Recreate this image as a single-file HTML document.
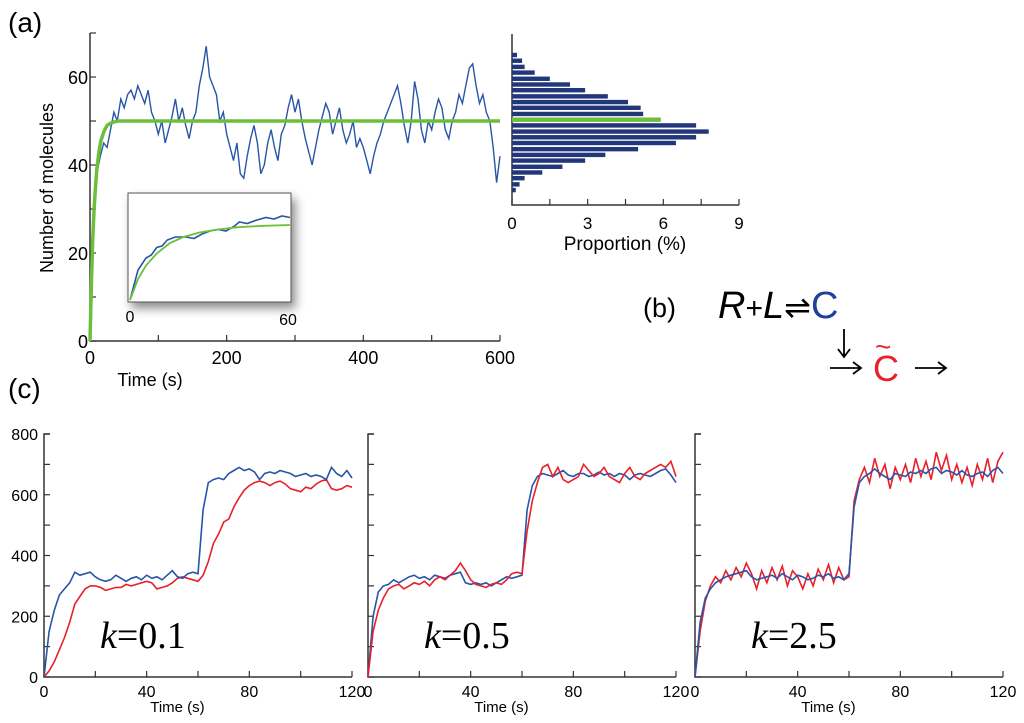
<!DOCTYPE html>
<html><head><meta charset="utf-8"><style>
body{margin:0;background:#fff;width:1024px;height:723px;overflow:hidden}
svg{display:block;font-family:"Liberation Sans",sans-serif}
</style></head><body>
<svg id="fig" width="1024" height="723" viewBox="0 0 1024 723">
<defs><filter id="sh" x="-20%" y="-20%" width="150%" height="160%"><feDropShadow dx="4" dy="6" stdDeviation="5" flood-color="#000" flood-opacity="0.45"/></filter></defs>
<text x="8" y="32" font-size="28">(a)</text>
<text x="8" y="398" font-size="28">(c)</text>
<g>
<text x="643" y="317" font-size="27">(b)</text>
<text x="718" y="318" font-size="38"><tspan font-style="italic">R</tspan><tspan font-size="30">+</tspan><tspan font-style="italic">L</tspan><tspan font-size="32">⇌</tspan><tspan fill="#1f3f9a">C</tspan></text>
<g stroke="#000" stroke-width="1.8" fill="none"><path d="M844,329 V356 M838,349 L844,357 L850,349"/></g>
<g stroke="#000" stroke-width="1.8" fill="none"><path d="M830,368 H860 M853,362 L861,368 L853,374"/></g>
<text x="873" y="381" font-size="36" fill="#e8202a">C</text>
<text x="875" y="356" font-size="28" fill="#e8202a">~</text>
<g stroke="#000" stroke-width="1.8" fill="none"><path d="M915,368 H945 M938,362 L946,368 L938,374"/></g>
</g>
<g id="pa"></g>
<g id="ph"></g>
<g id="pc"></g>
</svg>
<script>
const mainT0=0, mainDt=5;
const mainV=[0,30,38,42,45,44,48,52,50,55,53,56,57,55,58,56,54,57,52,50,47,50,45,48,51,55,50,53,49,46,50,52,58,62,67,60,58,56,50,52,47,44,41,45,38,37,42,46,49,45,38,40,45,48,44,41,47,49,53,56,52,55,50,46,43,40,44,48,51,54,52,47,50,53,48,45,47,50,44,46,44,41,38,42,45,47,50,52,54,56,58,54,49,45,50,59,55,48,45,50,48,52,55,53,48,46,50,52,56,54,58,62,63,58,54,56,52,50,44,36,42];
const fitT=[0,2,4,6,8,10,13,16,20,25,30,40,50,60,600];
const fitV=[0,13,23,30,35,39,43,45.5,47.5,49,49.5,50,50,50,50];
const xTicksA=[0,200,400,600];
const yTicksA=[0,20,40,60];
const insetT=[0,3,6,8,10,12,14,17,21,24,27,30,33,36,39,41,44,47,51,54,57,60];
const insetBlue=[0,20,28,30,35,36,40,42,42,41,44,46,47,46,49,52,51,53,55,54,56,55];
const insetFitT=[0,3,6,10,15,20,26,33,40,50,60];
const insetFitV=[0,14,23,31,38,42,45,47,48.5,49.5,50];
const histBins=[65,63.7,62.3,61,59.6,58.3,57,55.6,54.3,53,51.6,50.3,49,47.6,46.3,45,43.6,42.3,41,39.6,38.3,37,35.6,34.3];
const histPct=[0.2,0.4,0.5,0.9,1.5,2.3,2.9,3.8,4.6,5.1,5.2,5.9,7.3,7.8,7.3,6.5,5.0,3.7,2.9,2.0,1.2,0.5,0.3,0.15];
const histHighlight=11;
const histTicks=[0,3,6,9];
const cT0=0, cDt=2;
const c1Blue=[0,150,220,270,290,310,345,335,340,345,330,320,315,320,335,325,315,325,330,320,335,325,330,320,335,350,330,325,340,345,340,550,640,650,655,650,670,680,690,680,685,675,650,670,675,670,680,675,670,660,665,670,660,665,660,650,690,670,660,680,655];
const c1Red=[0,20,50,90,130,180,240,265,290,300,300,295,285,290,295,295,305,300,305,310,315,310,290,295,300,310,325,330,325,320,315,335,380,440,470,510,520,560,590,615,630,640,645,640,630,640,645,635,620,615,610,625,620,635,645,650,620,615,620,630,625];
const c2Blue=[0,200,280,300,305,320,310,320,330,335,325,330,320,335,330,325,335,340,345,310,305,310,305,310,300,310,320,330,325,330,335,550,630,660,670,665,660,670,680,665,660,670,670,660,665,675,665,670,660,670,665,650,665,670,665,660,670,680,685,665,640];
const c2Red=[0,150,220,260,290,300,305,290,300,310,305,315,300,320,330,320,335,350,375,350,320,305,300,295,305,310,305,320,340,345,340,480,580,640,690,700,660,690,650,640,650,660,700,680,660,670,690,660,650,640,670,690,660,650,670,680,690,700,690,710,660];
const c3Blue=[0,180,260,290,310,320,330,335,340,345,350,330,320,325,330,335,325,340,330,320,335,330,320,325,335,330,340,325,330,320,340,560,640,660,670,685,670,660,650,670,665,660,675,670,680,670,685,690,670,680,675,665,680,665,660,670,675,660,680,690,670];
const c3Red=[0,150,250,300,330,310,350,320,360,330,375,340,290,350,310,360,320,365,300,350,330,290,340,300,355,320,370,310,360,320,330,580,650,690,640,720,660,700,620,690,650,700,640,720,660,710,650,740,680,730,650,700,640,690,630,700,650,720,640,710,740];
const cXTicks=[0,40,80,120];
const cYTicks=[0,200,400,600,800];
const kLabels=["0.1","0.5","2.5"];

const NS="http://www.w3.org/2000/svg";
function mk(p,tag,at){const e=document.createElementNS(NS,tag);for(const k in at)e.setAttribute(k,at[k]);p.appendChild(e);return e;}
function pts(xs,ys,sx,sy){return xs.map((x,i)=>sx(x).toFixed(1)+","+sy(ys[i]).toFixed(1)).join(" ");}
const AX="#333";

const pa=document.getElementById('pa');
const ax=t=>90+t/600*410, ay=v=>341-v*4.4;
let e=mk(pa,'path',{d:`M90,33 V341 H500`,fill:'none',stroke:AX,'stroke-width':1.5});


for(let t=0;t<=600;t+=100){e=mk(pa,'line',{x1:ax(t),x2:ax(t),y1:341,y2:335,stroke:AX,'stroke-width':1.2});}
for(let v=0;v<=70;v+=10){e=mk(pa,'line',{x1:90,x2:96,y1:ay(v),y2:ay(v),stroke:AX,'stroke-width':1.2});}
xTicksA.forEach(t=>{e=mk(pa,'text',{x:ax(t),y:364,'font-size':18,'text-anchor':'middle'});e.textContent=t;});
yTicksA.forEach(v=>{e=mk(pa,'text',{x:88,y:ay(v)+7,'font-size':18,'text-anchor':'end'});e.textContent=v;});
e=mk(pa,'text',{x:150,y:386,'font-size':18,'text-anchor':'middle'});e.textContent='Time (s)';


e=mk(pa,'text',{x:0,y:0,'font-size':18,'text-anchor':'middle',transform:'translate(53,188) rotate(-90)'});e.textContent='Number of molecules';


const mainTs=mainV.map((v,i)=>mainT0+i*mainDt);
e=mk(pa,'polyline',{points:pts(mainTs,mainV,ax,ay),fill:'none',stroke:'#2855a8','stroke-width':1.4});


e=mk(pa,'polyline',{points:pts(fitT,fitV,ax,ay),fill:'none',stroke:'#6cbf3a','stroke-width':3.5});


const ig=mk(pa,'g',{});


e=mk(ig,'rect',{x:128,y:193,width:163,height:109,fill:'#fff',stroke:'#555','stroke-width':1,filter:'url(#sh)'});


const ix=t=>130+t/60*160, iy=v=>300-v*1.5;
e=mk(ig,'polyline',{points:pts(insetT,insetBlue,ix,iy),fill:'none',stroke:'#2855a8','stroke-width':1.6});


e=mk(ig,'polyline',{points:pts(insetFitT,insetFitV,ix,iy),fill:'none',stroke:'#6cbf3a','stroke-width':1.8});


e=mk(ig,'text',{x:130,y:322,'font-size':16,'text-anchor':'middle'});e.textContent='0';


e=mk(ig,'text',{x:288,y:325,'font-size':16,'text-anchor':'middle'});e.textContent='60';



const ph=document.getElementById('ph');
const hx=p=>512+p/9*227;
e=mk(ph,'path',{d:'M512,34 V205 H739',fill:'none',stroke:AX,'stroke-width':1.5});


for(let p=0;p<=9;p+=1.5){e=mk(ph,'line',{x1:hx(p),x2:hx(p),y1:205,y2:199,stroke:AX,'stroke-width':1.2});}
histTicks.forEach(p=>{e=mk(ph,'text',{x:hx(p),y:229,'font-size':17,'text-anchor':'middle'});e.textContent=p;});
e=mk(ph,'text',{x:625,y:250,'font-size':19,'text-anchor':'middle'});e.textContent='Proportion (%)';


histBins.forEach((b,i)=>{const y=ay(b);e=mk(ph,'rect',{x:512,y:y-2.2,width:hx(histPct[i])-512,height:4.4,fill:i===histHighlight?'#6cbf3a':'#22367a'});});

const pc=document.getElementById('pc');
const panels=[{x0:44,blue:c1Blue,red:c1Red},{x0:368,blue:c2Blue,red:c2Red},{x0:695,blue:c3Blue,red:c3Red}];
const cy=v=>677-v/800*243;
panels.forEach((P,pi)=>{
 const g=mk(pc,'g',{});
 
 
 const cx=t=>P.x0+t/120*308;
 e=mk(g,'path',{d:`M${P.x0+6},434 H${P.x0} V677 H${P.x0+308}`,fill:'none',stroke:AX,'stroke-width':1.5});
 
 
 for(let v=0;v<=800;v+=100){e=mk(g,'line',{x1:P.x0,x2:P.x0+6,y1:cy(v),y2:cy(v),stroke:AX,'stroke-width':1.2});}
 for(let t=0;t<=120;t+=20){e=mk(g,'line',{x1:cx(t),x2:cx(t),y1:677,y2:671,stroke:AX,'stroke-width':1.2});}
 cXTicks.forEach(t=>{e=mk(g,'text',{x:cx(t),y:697,'font-size':16,'text-anchor':'middle'});e.textContent=t;});
 if(pi===0)cYTicks.forEach(v=>{e=mk(g,'text',{x:38,y:cy(v)+6,'font-size':16,'text-anchor':'end'});e.textContent=v;});
 e=mk(g,'text',{x:cx(52),y:712,'font-size':15,'text-anchor':'middle'});e.textContent='Time (s)';
 
 
 const ts=P.blue.map((v,i)=>cT0+i*cDt);
 const order=[['red',P.red,'#e8202a'],['blue',P.blue,'#2855a8']];
 if(pi===1)order.reverse();
 order.forEach(([n,arr,col])=>{e=mk(g,'polyline',{points:pts(ts,arr,cx,cy),fill:'none',stroke:col,'stroke-width':1.6});});
 const t=mk(g,'text',{x:P.x0+56,y:648,'font-size':38,'font-family':'Liberation Serif, serif'});
 
 
 t.innerHTML='<tspan font-style="italic">k</tspan>='+kLabels[pi];
});
</script>
</body></html>
